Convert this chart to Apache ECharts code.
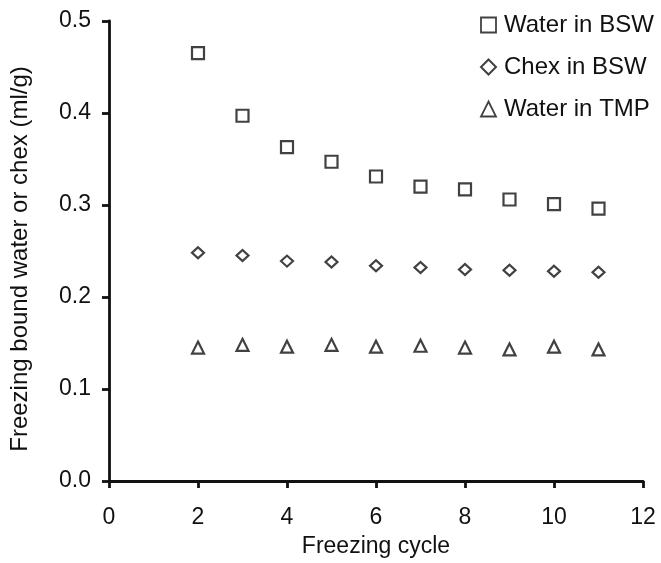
<!DOCTYPE html>
<html><head><meta charset="utf-8">
<script src="https://cdn.jsdelivr.net/npm/echarts@6/dist/echarts.min.js"></script>
<style>html,body{margin:0;padding:0;background:#fff}#c{width:661px;height:563px}</style>
</head><body><div id="c"></div>
<script>
const cycles = [2,3,4,5,6,7,8,9,10,11];
const waterBSW = [0.465,0.397,0.363,0.347,0.331,0.320,0.317,0.306,0.301,0.296];
const chexBSW = [0.248,0.245,0.239,0.238,0.234,0.232,0.230,0.229,0.228,0.227];
const waterTMP = [0.145,0.148,0.146,0.148,0.146,0.147,0.145,0.143,0.146,0.143];
const seriesNames = ['Water in BSW','Chex in BSW','Water in TMP'];
const xTicks = {min:0,max:12,interval:2};
const yTicks = {min:0,max:0.5,interval:0.1};

const font = 'Liberation Sans, Arial, sans-serif';
const mk = (name, vals, symbol, size) => ({
  name, type:'scatter', symbol, symbolSize:size,
  data: cycles.map((c,i)=>[c, vals[i]]),
  itemStyle:{color:'#fff', borderColor:'#111', borderWidth:2.2},
  emphasis:{disabled:true}
});
const chart = echarts.init(document.getElementById('c'));
chart.setOption({
  animation:false,
  backgroundColor:'#fff',
  textStyle:{fontFamily:font,color:'#000'},
  grid:{left:108,right:18,top:21,bottom:81},
  legend:{
    orient:'vertical', left:475, top:8, itemGap:18, itemWidth:15, itemHeight:15,
    textStyle:{fontSize:24,color:'#111',fontFamily:font,padding:[0,0,0,3]},
    data:[
      {name:seriesNames[0], icon:'rect', itemStyle:{color:'#fff',borderColor:'#111',borderWidth:1.8}},
      {name:seriesNames[1], icon:'diamond', itemStyle:{color:'#fff',borderColor:'#111',borderWidth:2}},
      {name:seriesNames[2], icon:'triangle', itemStyle:{color:'#fff',borderColor:'#111',borderWidth:1.8}}
    ]
  },
  xAxis:{
    type:'value', min:xTicks.min, max:xTicks.max, interval:xTicks.interval,
    name:'Freezing cycle', nameLocation:'middle', nameGap:54,
    nameTextStyle:{fontSize:23,color:'#111',fontFamily:font},
    axisLine:{lineStyle:{color:'#111',width:2.8}},
    axisTick:{show:true,length:7,lineStyle:{color:'#111',width:2.8}},
    axisLabel:{fontSize:23,color:'#111',margin:25,fontFamily:font},
    splitLine:{show:false}
  },
  yAxis:{
    type:'value', min:yTicks.min, max:yTicks.max, interval:yTicks.interval,
    name:'Freezing bound water or chex (ml/g)', nameLocation:'middle', nameGap:77,
    nameTextStyle:{fontSize:24,color:'#111',fontFamily:font,padding:[0,16,0,0]},
    axisLine:{show:true,lineStyle:{color:'#111',width:2.8}},
    axisTick:{show:true,length:7,lineStyle:{color:'#111',width:2.8}},
    axisLabel:{fontSize:23,color:'#111',margin:18,fontFamily:font,formatter:v=>v.toFixed(1)},
    splitLine:{show:false}
  },
  series:[
    mk(seriesNames[0], waterBSW, 'rect', 12),
    mk(seriesNames[1], chexBSW, 'diamond', [12,11]),
    mk(seriesNames[2], waterTMP, 'triangle', [12,12])
  ]
});
</script></body></html>
